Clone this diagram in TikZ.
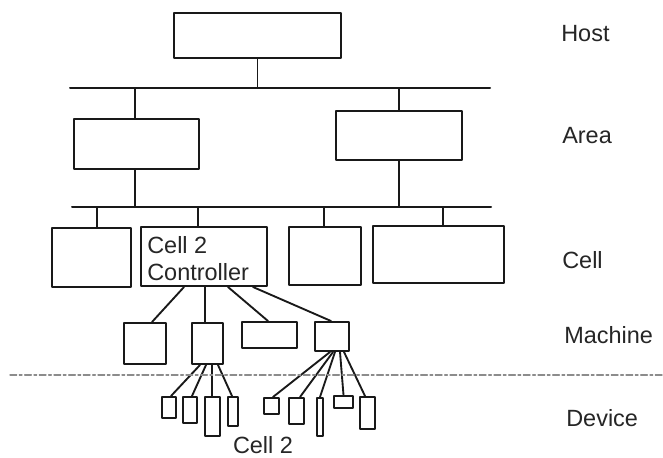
\documentclass[tikz,border=0pt]{standalone}
\usepackage{fontspec}
\setmainfont{Liberation Sans}
\usetikzlibrary{fit,calc}
\begin{document}
\begin{tikzpicture}[x=0.75pt,y=-0.75pt,
  line cap=round, line join=round,
  box/.style={draw=black!90, line width=1.5pt, inner sep=0pt, rectangle},
  conn/.style={draw=black!90, line width=1.4pt},
  bus/.style={draw=black!90, line width=1.5pt},
  lbl/.style={font=\fontsize{17.6pt}{20.25pt}\selectfont, inner sep=0pt, text=black!85},
  sep/.style={draw=black!45, line width=1pt, dash pattern=on 5pt off 2pt on 2pt off 2pt}]
\useasboundingbox (0,0) rectangle (663,457);
\fill[white] (0,0) rectangle (663,457);

% buses
\coordinate (b1l) at (70,88);  \coordinate (b1r) at (490,88);
\coordinate (b2l) at (72,207); \coordinate (b2r) at (491,207);
\draw[bus] (b1l) -- (b1r);
\draw[bus] (b2l) -- (b2r);

% host
\node[box, fit={(174,13) (341,58)}] (host) {};
% area
\node[box, fit={(74,119) (199,169)}] (aL) {};
\node[box, fit={(336,111) (462,160)}] (aR) {};
% cells
\node[box, fit={(52,228) (131,287)}] (c1) {};
\node[box, fit={(141,227) (267,286)}] (c2) {};
\node[box, fit={(289,227) (361,285)}] (c3) {};
\node[box, fit={(373,226) (504,283)}] (c4) {};
% machines
\node[box, fit={(124,323) (166,364)}] (m1) {};
\node[box, fit={(192,323) (223,364)}] (m2) {};
\node[box, fit={(242,322) (297,348)}] (m3) {};
\node[box, fit={(315,322) (349,351)}] (m4) {};
% devices
\node[box, fit={(162,397) (176,418)}] (d1) {};
\node[box, fit={(183,397) (197,423)}] (d2) {};
\node[box, fit={(205,397) (220,436)}] (d3) {};
\node[box, fit={(228,397) (238,426)}] (d4) {};
\node[box, fit={(264,398) (279,414)}] (e1) {};
\node[box, fit={(289,398) (304,424)}] (e2) {};
\node[box, fit={(317,398) (323,436)}] (e3) {};
\node[box, fit={(334,396) (353,408)}] (e4) {};
\node[box, fit={(360,397) (375,429)}] (e5) {};

% connectors host/area
\draw[conn] (host.south) -- (host.south |- b1l);
\draw[conn] ($(aL.north)+(-1.5,0)$) -- ($(aL.north |- b1l)+(-1.5,0)$);
\draw[conn] (aR.north) -- (aR.north |- b1l);
\draw[conn] ($(aL.south)+(-1.5,0)$) -- ($(aL.south |- b2l)+(-1.5,0)$);
\draw[conn] (aR.south) -- (aR.south |- b2l);
% cells
\draw[conn] ($(c1.north)+(5.5,0)$) -- ($(c1.north |- b2l)+(5.5,0)$);
\draw[conn] ($(c2.north)+(-6,0)$) -- ($(c2.north |- b2l)+(-6,0)$);
\draw[conn] ($(c3.north)+(-1,0)$) -- ($(c3.north |- b2l)+(-1,0)$);
\draw[conn] ($(c4.north)+(4.5,0)$) -- ($(c4.north |- b2l)+(4.5,0)$);
% controller to machines
\draw[conn] ($(c2.south)+(-20,0)$) -- ($(m1.north)+(7,0)$);
\draw[conn] ($(c2.south)+(1,0)$) -- ($(m2.north)+(-2.5,0)$);
\draw[conn] ($(c2.south)+(24,0)$) -- ($(m3.north)+(-1.5,0)$);
\draw[conn] ($(c2.south)+(49,0)$) -- ($(m4.north)+(-1,0)$);
% machine 2 to devices
\draw[conn] ($(m2.south)+(-7.5,0)$) -- ($(d1.north)+(2,0)$);
\draw[conn] ($(m2.south)+(-1.5,0)$) -- ($(d2.north)+(2,0)$);
\draw[conn] ($(m2.south)+(4.5,0)$) -- ($(d3.north)+(-0.5,0)$);
\draw[conn] ($(m2.south)+(10.5,0)$) -- ($(d4.north)+(-1,0)$);
% machine 4 to devices
\draw[conn] ($(m4.south)+(-2,0)$) -- ($(e1.north)+(1.5,0)$);
\draw[conn] ($(m4.south)+(1,0)$) -- ($(e2.north)+(3.5,0)$);
\draw[conn] ($(m4.south)+(3,0)$) -- (e3.north);
\draw[conn] ($(m4.south)+(8,0)$) -- (e4.north);
\draw[conn] ($(m4.south)+(12,0)$) -- ($(e5.north)+(-2.5,0)$);

% separator
\coordinate (sepL) at (10,375); \coordinate (sepR) at (663,375);
\draw[sep] (sepL) -- (sepR);

% texts
\node[lbl, anchor=base west, align=left] (ctl) at (147,280) {Cell 2\\Controller};
\node[lbl, anchor=base] (cell2) at (263,453.5) {Cell 2};
\node[lbl, anchor=base west] (lhost) at (561,41.5) {Host};
\node[lbl, anchor=base west] (larea) at (562,143.5) {Area};
\node[lbl, anchor=base west] (lcell) at (562,268.5) {Cell};
\node[lbl, anchor=base west] (lmach) at (564,343.5) {Machine};
\node[lbl, anchor=base west] (ldev) at (566,426.5) {Device};
\end{tikzpicture}
\end{document}
